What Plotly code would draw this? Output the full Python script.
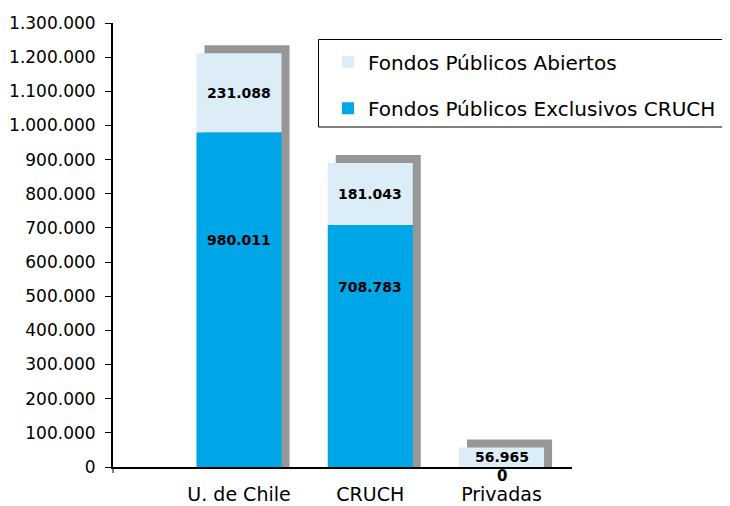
import plotly.graph_objects as go

# ---- data ----
categories = ["U. de Chile", "CRUCH", "Privadas"]
exclusivos = [980011, 708783, 0]
abiertos = [231088, 181043, 56965]
y_ticks = list(range(0, 1300001, 100000))
y_tick_labels = [f"{v:,}".replace(",", ".") for v in y_ticks]

def fmt(v):
    return f"{v:,}".replace(",", ".")

# ---- layout constants (page pixels) ----
PAGE_W, PAGE_H = 730, 506
OFF = 8  # default body margin of the page
W, H = PAGE_W - OFF, PAGE_H - OFF
PLOT_L, PLOT_R, PLOT_T, PLOT_B = 113, 572, 23, 467
ML, MR, MT, MB = PLOT_L - OFF, PAGE_W - PLOT_R, PLOT_T - OFF, PAGE_H - PLOT_B
PLOT_W = PLOT_R - PLOT_L
PLOT_H = PLOT_B - PLOT_T
X_RANGE = [-0.96, 2.537]
Y_RANGE = [0, 1300000]
BAR_W = 0.648
px_per_x = PLOT_W / (X_RANGE[1] - X_RANGE[0])
px_per_y = PLOT_H / (Y_RANGE[1] - Y_RANGE[0])
SHADOW_DX = 8 / px_per_x
SHADOW_DY = 8 / px_per_y
BLUE = "#00A7E8"
LIGHT = "#DDEDF7"
GRAY = "#979797"
FONT = "DejaVu Sans"
BLUE_LABEL_FRAC = [0.678, 0.745]

def pxx(p):
    return (p - PLOT_L) / PLOT_W

def pxy(p):
    return (PLOT_B - p) / PLOT_H

xpos = list(range(len(categories)))
totals = [a + b for a, b in zip(exclusivos, abiertos)]

fig = go.Figure()
# shadow
fig.add_trace(go.Bar(
    x=[x + SHADOW_DX for x in xpos], y=[t + SHADOW_DY for t in totals],
    width=BAR_W, marker=dict(color=GRAY, line=dict(width=0)),
    showlegend=False, hoverinfo="skip"))
fig.add_trace(go.Bar(
    x=xpos, y=exclusivos, width=BAR_W, name="Fondos Públicos Exclusivos CRUCH",
    marker=dict(color=BLUE, line=dict(width=0)), legend="legend2"))
fig.add_trace(go.Bar(
    x=xpos, y=abiertos, base=exclusivos, width=BAR_W, name="Fondos Públicos Abiertos",
    marker=dict(color=LIGHT, line=dict(width=0)), legend="legend"))

annotations = []
for i, (e, a) in enumerate(zip(exclusivos, abiertos)):
    annotations.append(dict(
        x=xpos[i], y=e + a / 2, text=fmt(a), showarrow=False,
        font=dict(family=FONT, size=14, color="black", weight="bold")))
    if e > 0:
        annotations.append(dict(
            x=xpos[i], y=e * BLUE_LABEL_FRAC[i], text=fmt(e), showarrow=False,
            font=dict(family=FONT, size=14, color="black", weight="bold")))
    else:
        annotations.append(dict(
            x=xpos[i], y=0, text=fmt(e), showarrow=False, yanchor="middle", yshift=-9,
            font=dict(family=FONT, size=15, color="black", weight="bold")))

fig.update_layout(
    width=W, height=H,
    margin=dict(l=ML, r=MR, t=MT, b=MB, pad=0, autoexpand=False),
    barmode="overlay",
    plot_bgcolor="white", paper_bgcolor="white",
    font=dict(family=FONT, color="black"),
    xaxis=dict(range=X_RANGE, tickvals=xpos, ticktext=categories, showgrid=False,
               zeroline=False, showline=True, linecolor="black", linewidth=2,
               ticks="", tickfont=dict(size=19), ticklabelstandoff=9,
               automargin=False),
    yaxis=dict(range=Y_RANGE, tickvals=y_ticks, ticktext=y_tick_labels, showgrid=False,
               zeroline=False, showline=True, linecolor="black", linewidth=2,
               ticks="outside", ticklen=6, tickwidth=1, tickcolor="black",
               tickfont=dict(size=17), ticklabelstandoff=6, automargin=False),
    legend=dict(x=pxx(328), y=pxy(61.7), xanchor="left", yanchor="middle",
                font=dict(size=20), bgcolor="rgba(0,0,0,0)", borderwidth=0),
    legend2=dict(x=pxx(328), y=pxy(108.3), xanchor="left", yanchor="middle",
                 font=dict(size=20), bgcolor="rgba(0,0,0,0)", borderwidth=0),
    shapes=[dict(type="rect", xref="paper", yref="paper",
                 x0=pxx(318.5), x1=pxx(728.5), y0=pxy(127), y1=pxy(39.5),
                 line=dict(color="black", width=1), fillcolor="rgba(0,0,0,0)"),
            dict(type="line", xref="paper", yref="paper",
                 x0=0, x1=0, y0=0, y1=pxy(473),
                 line=dict(color="black", width=1))],
    annotations=annotations,
)

fig.write_html("out.html")
